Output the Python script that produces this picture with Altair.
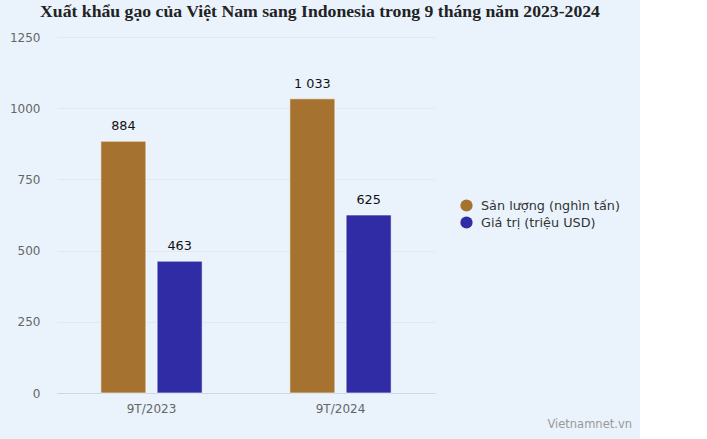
import altair as alt
import pandas as pd

periods = ["9T/2023", "9T/2023", "9T/2024", "9T/2024"]
series = ["Sản lượng (nghìn tấn)", "Giá trị (triệu USD)", "Sản lượng (nghìn tấn)", "Giá trị (triệu USD)"]
values = [884, 463, 1033, 625]
labels = ["884", "463", "1 033", "625"]
series_order = ["Sản lượng (nghìn tấn)", "Giá trị (triệu USD)"]
colors = ["#A57230", "#2F2CA6"]

df = pd.DataFrame({"period": periods, "series": series, "value": values, "label": labels})

x = alt.X("period:N", title=None,
          scale=alt.Scale(paddingInner=0.464, paddingOuter=0.232),
          axis=alt.Axis(labelAngle=0, ticks=False, domainColor="#ccd6eb", labelColor="#666666",
                        labelFont="DejaVu Sans", labelFontSize=12, labelPadding=10, grid=False))
y = alt.Y("value:Q", title=None,
          scale=alt.Scale(domain=[0, 1250], nice=False),
          axis=alt.Axis(values=[0, 250, 500, 750, 1000, 1250], format="d", ticks=False, domain=False,
                        gridColor="#e3e8ee", labelColor="#666666", labelFont="DejaVu Sans",
                        labelFontSize=12, labelPadding=17))
xo = alt.XOffset("series:N", sort=series_order, scale=alt.Scale(paddingInner=0.2, paddingOuter=0))
color = alt.Color("series:N", sort=series_order, scale=alt.Scale(domain=series_order, range=colors),
                  legend=alt.Legend(title=None, orient="none", legendX=403, legendY=162,
                                    symbolType="circle", symbolSize=150, symbolStrokeWidth=0,
                                    labelFont="DejaVu Sans", labelFontSize=12.8, labelColor="#333333",
                                    rowPadding=3, labelOffset=8))

bars = alt.Chart(df).mark_bar(stroke="#ffffff", strokeWidth=1, strokeOpacity=0.6).encode(
    x=x, y=y, xOffset=xo, color=color)

text = alt.Chart(df).mark_text(dy=-8, baseline="bottom", fontSize=12.8, font="DejaVu Sans",
                               color="#111111").encode(
    x=x, y=y, xOffset=xo, text="label:N")

wm = alt.Chart(pd.DataFrame({"t": ["Vietnamnet.vn"]})).mark_text(
    align="right", baseline="middle", fontSize=11.5, font="DejaVu Sans", color="#999999").encode(
    x=alt.value(575), y=alt.value(388), text="t:N")

chart = alt.layer(bars, text, wm).properties(
    width=378, height=356,
    title=alt.Title("Xuất khẩu gạo của Việt Nam sang Indonesia trong 9 tháng năm 2023-2024",
                    font="Liberation Serif", fontSize=17.7, fontWeight="bold", color="#222222",
                    anchor="middle", dx=74, offset=10),
    background="#EAF3FC",
    padding={"left": 57, "top": 37, "right": 205, "bottom": 46},
    autosize=alt.AutoSizeParams(type="none"),
).configure_view(strokeWidth=0)

chart.save("out.html", embed_options={"renderer": "svg", "actions": False})
